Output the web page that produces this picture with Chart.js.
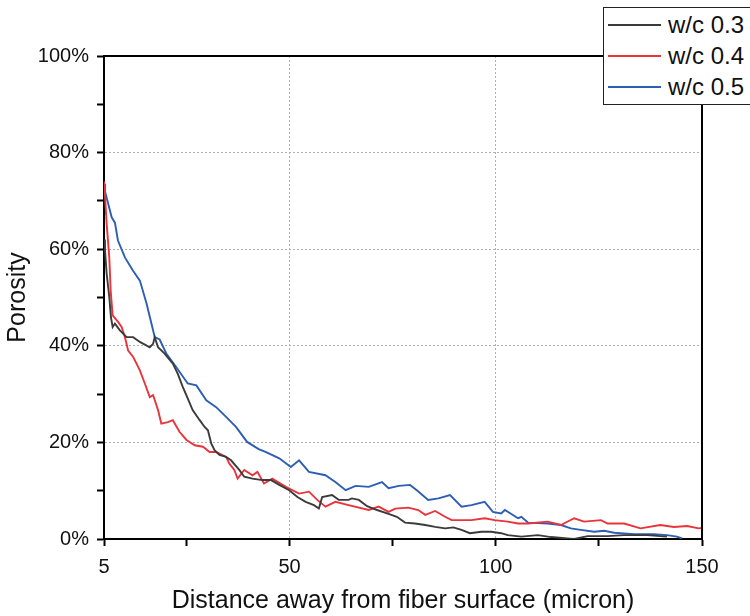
<!DOCTYPE html>
<html>
<head>
<meta charset="utf-8">
<script src="https://cdn.jsdelivr.net/npm/chart.js@4/dist/chart.umd.min.js"></script>
<style>
    body { margin: 0; overflow: hidden; background: #fff; }
    #wrap { position: relative; width: 750px; height: 616px; }
    #legend {
        position: absolute; left: 603px; top: 7px; width: 160px; height: 96px;
        border: 1.5px solid #222; background: #fff;
        font-family: "Liberation Sans", Arial, sans-serif; font-size: 24px; color: #111;
    }
    .row { position: absolute; left: 0; height: 30px; width: 160px; }
    .row span.line { position: absolute; left: 4px; top: 14px; width: 53px; height: 2px; }
    .row span.txt { position: absolute; left: 64px; top: 1px; line-height: 28px; }
</style>
</head>
<body>
<div id="wrap">
    <canvas id="chart" width="750" height="616"></canvas>
    <div id="legend"></div>
</div>
<script>
// series names and colours
const seriesNames = ['w/c 0.3', 'w/c 0.4', 'w/c 0.5'];
const seriesColors = ['#3b3b3b', '#e8343b', '#2c5eb3'];

// w/c 0.3 (distance in micron, porosity in %)
const distW3 = [5.0, 5.24, 5.65, 6.28, 6.69, 7.1, 7.65, 8.86, 10.48, 12.07, 13.7, 16.1, 16.9, 17.3, 18.1, 19.7,
    21.7, 22.9, 24.1, 25.3, 26.5, 28.2, 29.4, 30.2, 31.0, 31.8, 33.0, 34.6, 35.8, 37.8, 39.0, 41.0, 43.4, 45.5,
    47.5, 49.9, 51.9, 53.9, 55.9, 57.1, 57.9, 60.3, 61.9, 64.3, 65.1, 66.8, 68.8, 71.2, 74.0, 76.0, 78.0, 80.4,
    82.9, 85.3, 87.7, 89.7, 91.7, 93.7, 96.5, 98.9, 101.3, 102.9, 106.2, 110.2, 113.4, 117.4, 119.0, 122.3,
    127.1, 131.1, 136.7, 141.5];
const porW3 = [62, 59.7, 54.9, 50.1, 45.9, 43.9, 44.6, 43.2, 41.8, 41.8, 40.8, 39.7, 40.4, 41.8, 39.7, 38.4,
    36.3, 34.2, 31.5, 29.1, 26.7, 24.6, 23.2, 22.5, 19.8, 18.4, 17.4, 17.0, 16.3, 14.3, 12.9, 12.5, 12.2, 12.2,
    11.2, 10.1, 8.7, 7.7, 7.0, 6.3, 8.7, 9.1, 8.1, 8.1, 8.4, 8.1, 6.8, 6.0, 5.2, 4.6, 3.4, 3.2,
    2.9, 2.5, 2.2, 2.4, 1.9, 1.2, 1.5, 1.5, 1.2, 0.8, 0.5, 0.8, 0.4, 0.1, 0, 0.6,
    0.6, 0.8, 0.8, 0.5];

// w/c 0.4
const distW4 = [5.0, 5.07, 5.65, 6.28, 6.62, 7.1, 8.45, 9.27, 10.07, 10.86, 12.07, 13.7, 14.9, 16.1, 16.9, 18.1,
    18.9, 20.5, 21.7, 23.3, 25.0, 27.0, 29.0, 30.6, 32.2, 34.6, 35.4, 36.6, 37.4, 39.0, 41.0, 42.2, 43.8, 45.8,
    49.1, 52.3, 54.7, 56.7, 58.7, 61.1, 64.3, 69.2, 71.6, 74.0, 75.6, 78.8, 81.2, 82.9, 85.3, 87.7, 89.3, 94.1,
    97.3, 99.7, 102.9, 105.4, 107.8, 112.6, 115.8, 119.0, 121.4, 125.5, 127.1, 131.1, 135.1, 139.9, 143.2,
    146.4, 149.2, 150];
const porW4 = [74, 73.5, 65.2, 58.3, 51.4, 46.3, 44.9, 43.9, 41.8, 39.0, 37.7, 34.9, 32.2, 29.4, 29.8, 26.7,
    23.9, 24.2, 24.6, 22.2, 20.5, 19.4, 19.1, 18.0, 18.0, 17.0, 15.6, 14.3, 12.5, 14.3, 13.2, 13.9, 11.5, 12.5,
    10.8, 9.4, 9.8, 8.1, 6.7, 7.7, 7.0, 6.0, 6.7, 5.6, 6.3, 6.5, 6.0, 5.0, 5.8, 4.6, 3.9, 3.9,
    4.3, 3.9, 3.6, 3.2, 3.2, 3.6, 2.9, 4.3, 3.6, 3.9, 3.2, 3.2, 2.2, 2.9, 2.5,
    2.7, 2.2, 2.3];

// w/c 0.5
const distW5 = [5.0, 5.24, 6.86, 7.65, 8.38, 10.07, 12.0, 13.7, 15.3, 16.5, 17.3, 18.5, 20.1, 22.5, 25.3, 27.4,
    29.8, 32.2, 34.6, 37.0, 39.7, 42.5, 44.3, 47.5, 50.3, 52.3, 54.7, 58.7, 61.1, 63.6, 66.0, 69.2, 72.4, 74.0,
    76.5, 79.2, 81.0, 83.6, 86.1, 88.9, 91.7, 94.1, 97.3, 99.3, 101.3, 102.2, 105.4, 106.2, 107.8, 112.6, 115.8,
    118.2, 120.6, 123.9, 126.3, 128.7, 133.5, 138.3, 141.5, 143.9, 145.2];
const porW5 = [73.5, 72, 66.6, 65.5, 61.8, 58.3, 55.6, 53.5, 48.8, 44.6, 41.8, 41.3, 38.4, 35.6, 32.2, 31.8,
    28.7, 27.3, 25.3, 23.2, 20.1, 18.6, 18.0, 16.7, 14.9, 16.3, 13.9, 13.2, 11.8, 10.1, 11.0, 10.8, 11.8, 10.5,
    11.0, 11.2, 10.0, 8.1, 8.4, 9.1, 6.7, 7.0, 7.7, 5.6, 5.3, 6.0, 4.3, 4.6, 3.4, 3.2, 2.9,
    2.2, 1.9, 1.5, 1.7, 1.3, 1.0, 1.0, 0.8, 0.5, 0.1];

// axis ticks
const xTicks = [5, 25, 50, 75, 100, 125, 150];
const xLabels = [5, 50, 100, 150];
const xGrid = [50, 100];
const yLabels = [0, 20, 40, 60, 80, 100];
const yGrid = [20, 40, 60, 80];

Chart.defaults.font.family = '"Liberation Sans", Arial, sans-serif';
Chart.defaults.color = '#111';

function toPoints(xs, ys) {
    return xs.map((x, i) => ({x: x, y: ys[i]}));
}

const allX = [distW3, distW4, distW5];
const allY = [porW3, porW4, porW5];

const datasets = seriesNames.map((name, i) => ({
    label: name,
    data: toPoints(allX[i], allY[i]),
    borderColor: seriesColors[i],
    borderWidth: 1.9,
    pointRadius: 0,
    tension: 0,
    fill: false
}));

// top and right frame lines
const framePlugin = {
    id: 'frame',
    afterDraw(chart) {
        const a = chart.chartArea;
        const ctx = chart.ctx;
        ctx.save();
        ctx.strokeStyle = '#000';
        ctx.lineWidth = 2;
        ctx.beginPath();
        ctx.moveTo(a.left - 1, a.top);
        ctx.lineTo(a.right, a.top);
        ctx.lineTo(a.right, a.bottom + 1);
        ctx.stroke();
        ctx.restore();
    }
};

const chart = new Chart(document.getElementById('chart').getContext('2d'), {
    type: 'line',
    data: { datasets: datasets },
    options: {
        responsive: false,
        animation: false,
        devicePixelRatio: 1,
        layout: { padding: { left: 0, top: 56, right: 48, bottom: 0 } },
        plugins: { legend: { display: false }, tooltip: { enabled: false } },
        scales: {
            x: {
                type: 'linear',
                min: 5,
                max: 150,
                afterBuildTicks: (scale) => { scale.ticks = xTicks.map(v => ({value: v})); },
                afterFit: (scale) => { scale.height = 77; },
                ticks: {
                    autoSkip: false,
                    maxRotation: 0,
                    padding: 9,
                    font: { size: 20 },
                    color: '#111',
                    callback: (v) => xLabels.includes(v) ? String(v) : ''
                },
                grid: {
                    color: (c) => c.tick && xGrid.includes(c.tick.value) ? '#b0b0b0' : 'rgba(0,0,0,0)',
                    lineWidth: 1,
                    tickColor: '#000',
                    tickWidth: 2,
                    tickLength: 7
                },
                border: { display: true, color: '#000', width: 2, dash: [2, 2] },
                title: {
                    display: true,
                    text: 'Distance away from fiber surface (micron)',
                    font: { size: 25 },
                    color: '#111',
                    padding: { top: 0, bottom: 0 }
                }
            },
            y: {
                min: 0,
                max: 100,
                afterFit: (scale) => { scale.width = 104; },
                ticks: {
                    stepSize: 10,
                    padding: 8,
                    font: { size: 20 },
                    color: '#111',
                    callback: (v) => yLabels.includes(v) ? v + '%' : ''
                },
                grid: {
                    color: (c) => c.tick && yGrid.includes(c.tick.value) ? '#b0b0b0' : 'rgba(0,0,0,0)',
                    lineWidth: 1,
                    tickColor: '#000',
                    tickWidth: 2,
                    tickLength: 7
                },
                border: { display: true, color: '#000', width: 2, dash: [2, 2] },
                title: {
                    display: true,
                    text: 'Porosity',
                    font: { size: 25 },
                    color: '#111',
                    padding: { top: 3, bottom: 0 }
                }
            }
        }
    },
    plugins: [framePlugin]
});

// html legend box, top right
const legendBox = document.getElementById('legend');
seriesNames.forEach((name, i) => {
    const row = document.createElement('div');
    row.className = 'row';
    row.style.top = (2 + i * 31) + 'px';
    row.innerHTML = '<span class="line" style="background:' + seriesColors[i] + '"></span>' +
        '<span class="txt">' + name + '</span>';
    legendBox.appendChild(row);
});
</script>
</body>
</html>
